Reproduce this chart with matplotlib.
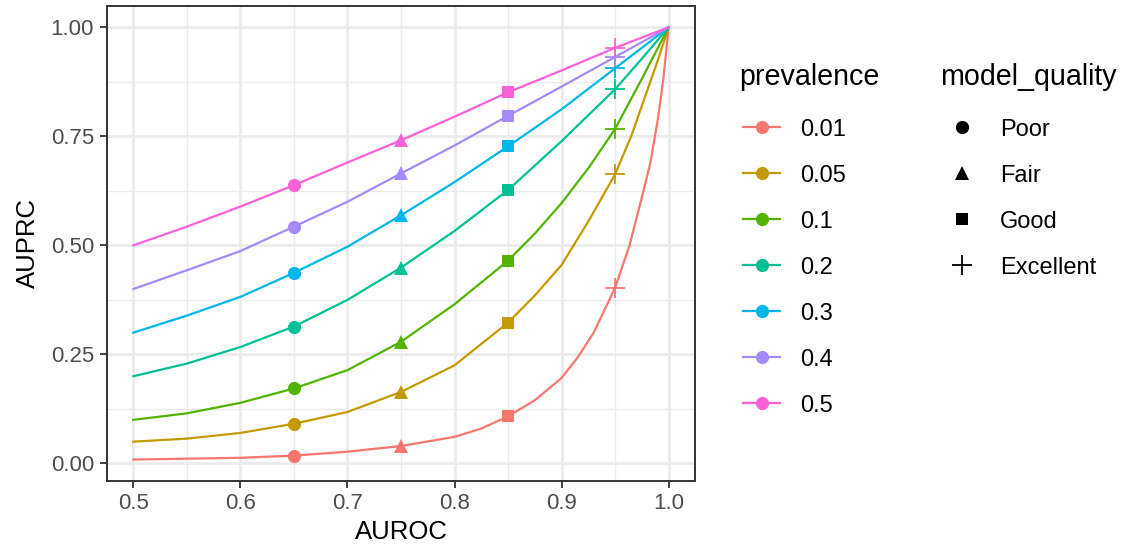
import matplotlib
matplotlib.use("Agg")
import matplotlib.pyplot as plt

plt.rcParams['font.family'] = ['Liberation Sans', 'DejaVu Sans']

# ---- data -------------------------------------------------------------
prevalence = ['0.01', '0.05', '0.1', '0.2', '0.3', '0.4', '0.5']
colors = ['#F8766D', '#C49A00', '#53B400', '#00C094', '#00B6EB', '#A58AFF', '#FB61D7']

quality = ['Poor', 'Fair', 'Good', 'Excellent']
quality_auroc = [0.65, 0.75, 0.85, 0.95]

# curves (AUROC, AUPRC)
curve_x_001 = [0.5, 0.55, 0.6, 0.65, 0.7, 0.75, 0.8, 0.825, 0.85, 0.875, 0.9, 0.915, 0.93, 0.95,
               0.9635, 0.976, 0.983, 0.99, 0.995, 1.0]
curve_y_001 = [0.009, 0.011, 0.013, 0.018, 0.027, 0.040, 0.061, 0.080, 0.108, 0.145, 0.196, 0.243,
               0.300, 0.403, 0.5, 0.62, 0.69, 0.79, 0.88, 1.0]
curve_x_005 = [0.5, 0.55, 0.6, 0.65, 0.7, 0.75, 0.8, 0.85, 0.875, 0.9, 0.925, 0.95, 0.965, 0.98,
               0.99, 1.0]
curve_y_005 = [0.05, 0.057, 0.07, 0.091, 0.118, 0.164, 0.225, 0.323, 0.385, 0.455, 0.555,
               0.663, 0.75, 0.855, 0.925, 1.0]
curve_x_010 = [0.5, 0.55, 0.6, 0.65, 0.7, 0.75, 0.8, 0.85, 0.875, 0.9, 0.925, 0.95, 0.975, 1.0]
curve_y_010 = [0.10, 0.115, 0.139, 0.172, 0.214, 0.279, 0.365, 0.465, 0.527, 0.597, 0.677,
               0.767, 0.882, 1.0]
curve_x_020 = [0.5, 0.55, 0.6, 0.65, 0.7, 0.75, 0.8, 0.85, 0.9, 0.95, 0.975, 1.0]
curve_y_020 = [0.20, 0.229, 0.267, 0.314, 0.375, 0.449, 0.533, 0.627, 0.739, 0.858, 0.928, 1.0]
curve_x_030 = [0.5, 0.55, 0.6, 0.65, 0.7, 0.75, 0.8, 0.85, 0.9, 0.95, 1.0]
curve_y_030 = [0.30, 0.339, 0.382, 0.437, 0.497, 0.569, 0.645, 0.727, 0.812, 0.906, 1.0]
curve_x_040 = [0.5, 0.55, 0.6, 0.65, 0.7, 0.75, 0.8, 0.85, 0.9, 0.95, 1.0]
curve_y_040 = [0.40, 0.443, 0.487, 0.543, 0.60, 0.665, 0.729, 0.797, 0.864, 0.932, 1.0]
curve_x_050 = [0.5, 0.55, 0.6, 0.65, 0.7, 0.75, 0.8, 0.85, 0.9, 0.95, 1.0]
curve_y_050 = [0.50, 0.543, 0.589, 0.638, 0.69, 0.741, 0.795, 0.851, 0.901, 0.953, 1.0]

# model-quality points (AUPRC at quality_auroc)
pts_001 = [0.018, 0.040, 0.108, 0.403]
pts_005 = [0.091, 0.164, 0.323, 0.663]
pts_010 = [0.172, 0.279, 0.465, 0.767]
pts_020 = [0.314, 0.449, 0.627, 0.858]
pts_030 = [0.437, 0.569, 0.727, 0.906]
pts_040 = [0.543, 0.665, 0.797, 0.932]
pts_050 = [0.638, 0.741, 0.851, 0.953]

x_ticks = [0.5, 0.6, 0.7, 0.8, 0.9, 1.0]
x_ticklabels = ['0.5', '0.6', '0.7', '0.8', '0.9', '1.0']
y_ticks = [0.0, 0.25, 0.5, 0.75, 1.0]
y_ticklabels = ['0.00', '0.25', '0.50', '0.75', '1.00']

curves_x = [curve_x_001, curve_x_005, curve_x_010, curve_x_020, curve_x_030, curve_x_040, curve_x_050]
curves_y = [curve_y_001, curve_y_005, curve_y_010, curve_y_020, curve_y_030, curve_y_040, curve_y_050]
points = [pts_001, pts_005, pts_010, pts_020, pts_030, pts_040, pts_050]

# ---- style -------------------------------------------------------------
W, H = 1123, 550
markers = {'Poor': 'o', 'Fair': '^', 'Good': 's', 'Excellent': '+'}
msizes = {'Poor': 9.5, 'Fair': 10.5, 'Good': 9.0, 'Excellent': 14}

fig = plt.figure(figsize=(W / 100, H / 100), dpi=100)
pl, pr, pt, pb = 106.6, 695.4, 5.7, 480.7
ax = fig.add_axes([pl / W, 1 - pb / H, (pr - pl) / W, (pb - pt) / H])

ax.set_xlim(0.475, 1.025)
ax.set_ylim(-0.0395, 1.0495)
ax.set_xticks(x_ticks)
ax.set_xticklabels(x_ticklabels)
ax.set_yticks(y_ticks)
ax.set_yticklabels(y_ticklabels)
ax.set_xticks([0.55, 0.65, 0.75, 0.85, 0.95], minor=True)
ax.set_yticks([0.125, 0.375, 0.625, 0.875], minor=True)
ax.grid(which='major', color='#EBEBEB', linewidth=2.0)
ax.grid(which='minor', color='#EBEBEB', linewidth=1.0)
ax.set_axisbelow(True)
ax.tick_params(which='minor', length=0)
ax.tick_params(which='major', length=5, width=1.3, color='#333333',
               labelsize=16, labelcolor='#4D4D4D', pad=4)
for s in ax.spines.values():
    s.set_color('#333333')
    s.set_linewidth(1.4)

for cx, cy, c in zip(curves_x, curves_y, colors):
    ax.plot(cx, cy, color=c, linewidth=1.6, solid_joinstyle='round', zorder=3)
for pts, c in zip(points, colors):
    for q, xq, yq in zip(quality, quality_auroc, pts):
        ax.plot([xq], [yq], linestyle='none', marker=markers[q], markersize=msizes[q],
                color=c, markeredgewidth=1.3 if q == 'Excellent' else 0, zorder=4)

ax.set_xlabel('AUROC', fontsize=18.5, labelpad=4)
ax.set_ylabel('AUPRC', fontsize=18.5, labelpad=8)

# ---- legends (drawn in pixel coordinates) ----------------------------------
lg = fig.add_axes([0, 0, 1, 1])
lg.set_xlim(0, W)
lg.set_ylim(H, 0)
lg.axis('off')

lg.text(739, 85, 'prevalence', fontsize=20.6, va='baseline', ha='left', color='black')
row_y = [127, 173, 219, 265, 311, 357, 403]
for lab, c, yy in zip(prevalence, colors, row_y):
    lg.plot([743, 780], [yy, yy], color=c, linewidth=1.6)
    lg.plot([761.5], [yy], marker='o', markersize=9.5, color=c, markeredgewidth=0)
    lg.text(800, yy, lab, fontsize=17, va='center_baseline', ha='left', color='black')

lg.text(940, 85, 'model_quality', fontsize=20.6, va='baseline', ha='left', color='black')
for q, yy in zip(quality, row_y[:4]):
    lg.plot([962], [yy], linestyle='none', marker=markers[q], markersize=msizes[q],
            color='black', markeredgewidth=1.3 if q == 'Excellent' else 0)
    lg.text(1000, yy, q, fontsize=17, va='center_baseline', ha='left', color='black')

fig.savefig('out.png', dpi=100)
